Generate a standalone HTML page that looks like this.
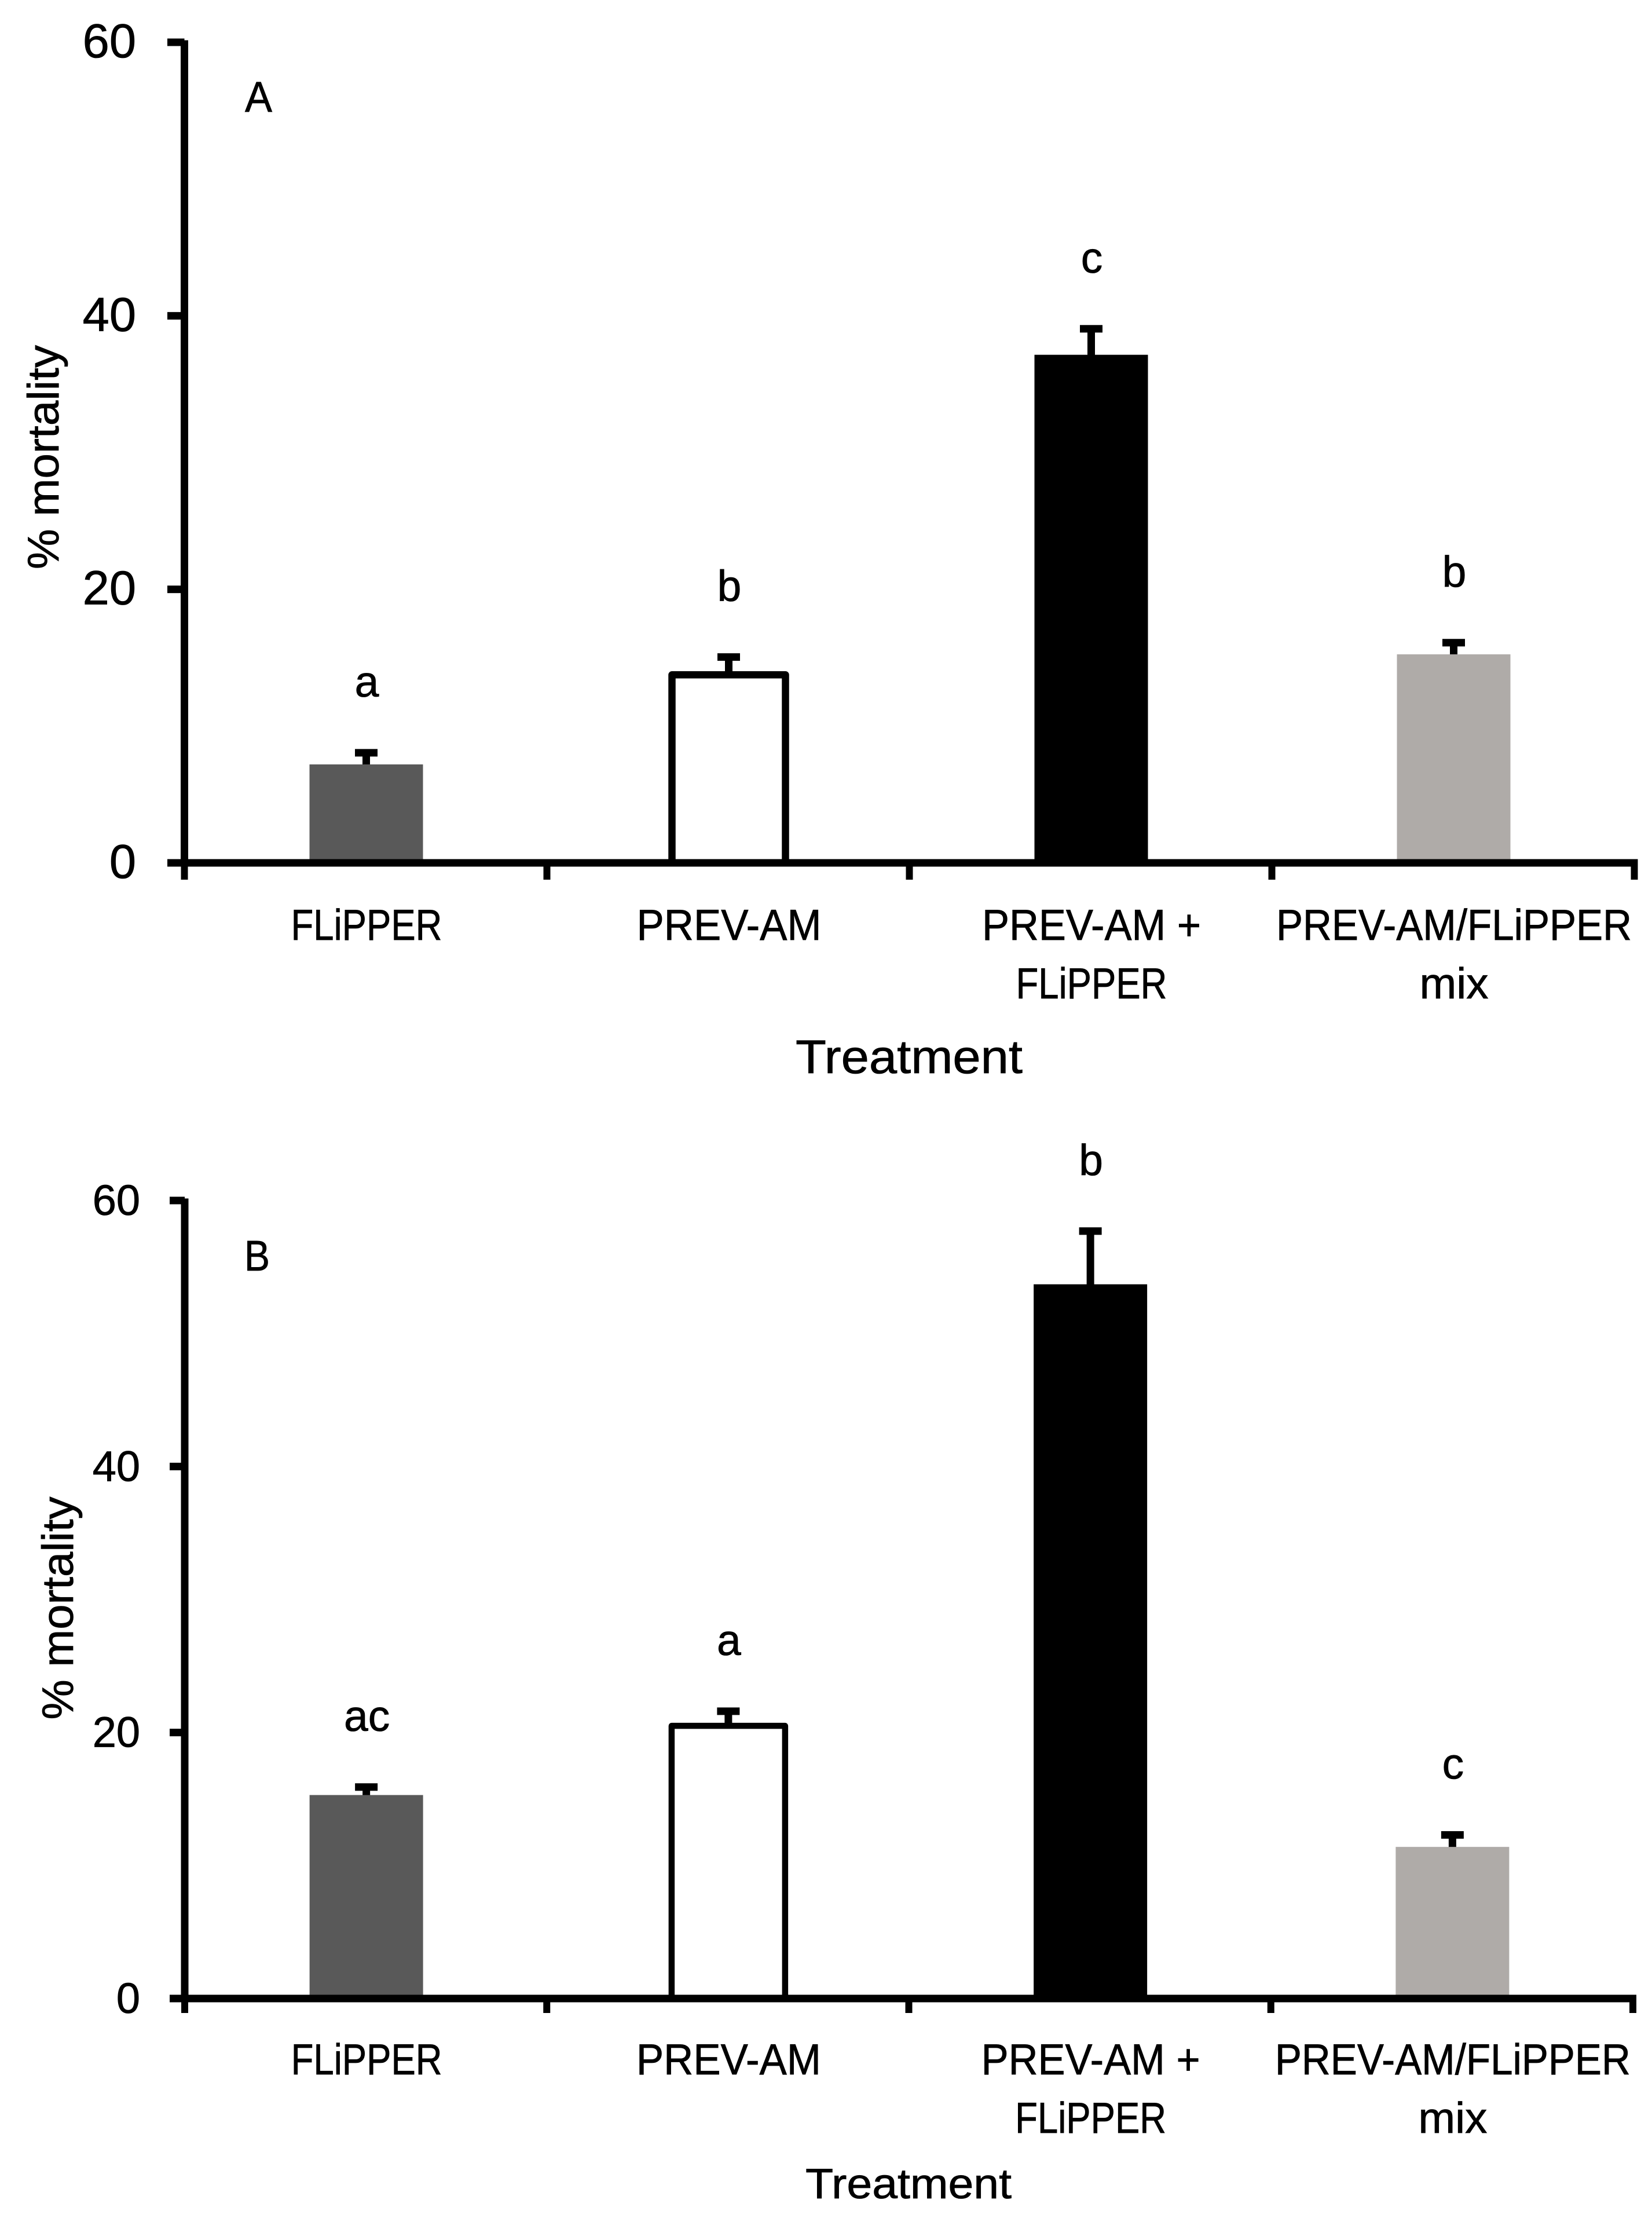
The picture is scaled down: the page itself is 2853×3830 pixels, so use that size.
<!DOCTYPE html>
<html lang="en">
<head>
<meta charset="utf-8">
<title>Mortality by treatment, panels A and B</title>
<style>
html,body{margin:0;padding:0;background:#fff;}
svg{display:block;}
text{font-family:"Liberation Sans",sans-serif;fill:#000;stroke:#000;stroke-width:0.8px;}
</style>
</head>
<body>
<svg id="figure" xmlns="http://www.w3.org/2000/svg" width="2853" height="3830" viewBox="0 0 2853 3830">
<rect x="0" y="0" width="2853" height="3830" fill="#ffffff"/>
</svg>
<script>
// Chart data
const categories = [["FLiPPER"], ["PREV-AM"], ["PREV-AM +", "FLiPPER"], ["PREV-AM/FLiPPER", "mix"]];
const categoryKeys = ["flipper", "prev-am", "prev-am-plus-flipper", "prev-am-flipper-mix"];
const yTicks = [0, 20, 40, 60];
const panelAValues = [7.2, 13.75, 37.15, 15.25];
const panelAErrorTops = [8.05, 15.05, 39.05, 16.1];
const panelALetters = ["a", "b", "c", "b"];
const panelBValues = [15.3, 20.5, 53.7, 11.4];
const panelBErrorTops = [15.9, 21.6, 57.7, 12.3];
const panelBLetters = ["ac", "a", "b", "c"];
const barFills = ["#595959", "#ffffff", "#000000", "#afaba8"];

// Layout
const NS = "http://www.w3.org/2000/svg";
const svg = document.getElementById("figure");
const labelWidths = {"FLiPPER": 261, "PREV-AM": 319, "PREV-AM +": 378, "PREV-AM/FLiPPER": 614, "mix": 119};
const panelA = {
  key: "a", title: "A", values: panelAValues, errorTops: panelAErrorTops, letters: panelALetters,
  xLeft: 318.5, xRight: 2822.5, y0: 1490, y60: 73, barWidth: 196, outline: 12.5, tickLeft: 289, tickBottom: 1519,
  tickFont: 83, tickLabelX: 235, tickLabelDy: 26,
  catFont: 75, catBaseline: 1623, catLineGap: 101,
  titleX: 446.5, titleY: 193, titleWidth: 47, titleFont: 74,
  yTitleX: 101, yTitleY: 789.5, yTitleWidth: 387, yTitleFont: 76,
  xTitleX: 1570, xTitleY: 1853, xTitleWidth: 392, xTitleFont: 82
};
const panelB = {
  key: "b", title: "B", values: panelBValues, errorTops: panelBErrorTops, letters: panelBLetters,
  xLeft: 319, xRight: 2820, y0: 3451, y60: 2073, barWidth: 196, outline: 10.5, tickLeft: 293, tickBottom: 3476,
  tickFont: 74, tickLabelX: 242, tickLabelDy: 25,
  catFont: 75, catBaseline: 3582, catLineGap: 101,
  titleX: 444, titleY: 2194, titleWidth: 44, titleFont: 74,
  yTitleX: 126, yTitleY: 2777, yTitleWidth: 385, yTitleFont: 76,
  xTitleX: 1569, xTitleY: 3796, xTitleWidth: 356, xTitleFont: 73
};
const AXIS_W = 13;
const TICK_W = 12;
const CAP_W = 39;
const LETTER_GAP = 97;
const LETTER_FONT = 75;

function make(tag, attrs, parent) {
  const el = document.createElementNS(NS, tag);
  for (const k in attrs) el.setAttribute(k, attrs[k]);
  parent.appendChild(el);
  return el;
}

function makeText(content, attrs, parent, width) {
  const el = make("text", attrs, parent);
  el.textContent = content;
  if (width) {
    el.setAttribute("textLength", width);
    el.setAttribute("lengthAdjust", "spacingAndGlyphs");
  }
  return el;
}

function drawPanel(p) {
  const xScale = i => p.xLeft + (p.xRight - p.xLeft) / categories.length * i;
  const yScale = v => p.y0 - (p.y0 - p.y60) * v / 60;
  const center = i => xScale(i + 0.5) + 1;

  const g = make("g", {}, svg);
  
  

  // Bars and error bars
  categories.forEach((c, i) => {
    const top = yScale(p.values[i]);
    const errY = yScale(p.errorTops[i]);

    const stem = make("rect", {x: center(i) - AXIS_W / 2, y: errY, width: AXIS_W, height: top - errY + 4, fill: "#000"}, g);
    
    

    const cap = make("rect", {x: center(i) - CAP_W / 2, y: errY - AXIS_W / 2, width: CAP_W, height: AXIS_W, fill: "#000"}, g);
    
    

    const hollow = barFills[i] === "#ffffff";
    const bar = make("rect", {
      x: center(i) - p.barWidth / 2, y: top, width: p.barWidth, height: p.y0 - top,
      fill: barFills[i], stroke: hollow ? "#000" : "none", "stroke-width": hollow ? p.outline : 0, "stroke-linejoin": "round"
    }, g);
    
    

    const letter = makeText(p.letters[i], {x: center(i) + 1, y: errY - LETTER_GAP, "font-size": LETTER_FONT, "text-anchor": "middle"}, g);
    
    

    c.forEach((line, n) => {
      const label = makeText(line, {
        x: center(i) + 0.5, y: p.catBaseline + n * p.catLineGap, "font-size": p.catFont, "text-anchor": "middle"
      }, g, labelWidths[line]);
      
      
    });
  });

  // Y axis
  const yAxis = make("rect", {
    x: p.xLeft - AXIS_W / 2, y: yScale(60) - AXIS_W / 2 + 3, width: AXIS_W,
    height: p.y0 - yScale(60) + AXIS_W - 3, fill: "#000"
  }, g);
  
  

  yTicks.forEach(t => {
    const y = yScale(t);
    const tick = make("rect", {x: p.tickLeft, y: y - AXIS_W / 2, width: p.xLeft - p.tickLeft, height: AXIS_W, fill: "#000"}, g);
    
    

    const label = makeText(String(t), {x: p.tickLabelX, y: y + p.tickLabelDy, "font-size": p.tickFont, "text-anchor": "end"}, g);
    
    
  });

  // X axis
  const xAxis = make("rect", {
    x: p.tickLeft, y: p.y0 - AXIS_W / 2, width: p.xRight + TICK_W / 2 - p.tickLeft, height: AXIS_W, fill: "#000"
  }, g);
  
  

  for (let i = 0; i <= categories.length; i++) {
    const tick = make("rect", {x: xScale(i) - TICK_W / 2, y: p.y0, width: TICK_W, height: p.tickBottom - p.y0, fill: "#000"}, g);
    
    
  }

  // Titles
  const title = makeText(p.title, {x: p.titleX, y: p.titleY, "font-size": p.titleFont, "text-anchor": "middle"}, g, p.titleWidth);
  
  

  const yTitle = makeText("% mortality", {
    x: p.yTitleX, y: p.yTitleY, "font-size": p.yTitleFont, "text-anchor": "middle",
    transform: "rotate(-90 " + p.yTitleX + " " + p.yTitleY + ")"
  }, g, p.yTitleWidth);
  
  

  const xTitle = makeText("Treatment", {x: p.xTitleX, y: p.xTitleY, "font-size": p.xTitleFont, "text-anchor": "middle"}, g, p.xTitleWidth);
  
  
}

drawPanel(panelA);
drawPanel(panelB);
</script>
</body>
</html>
